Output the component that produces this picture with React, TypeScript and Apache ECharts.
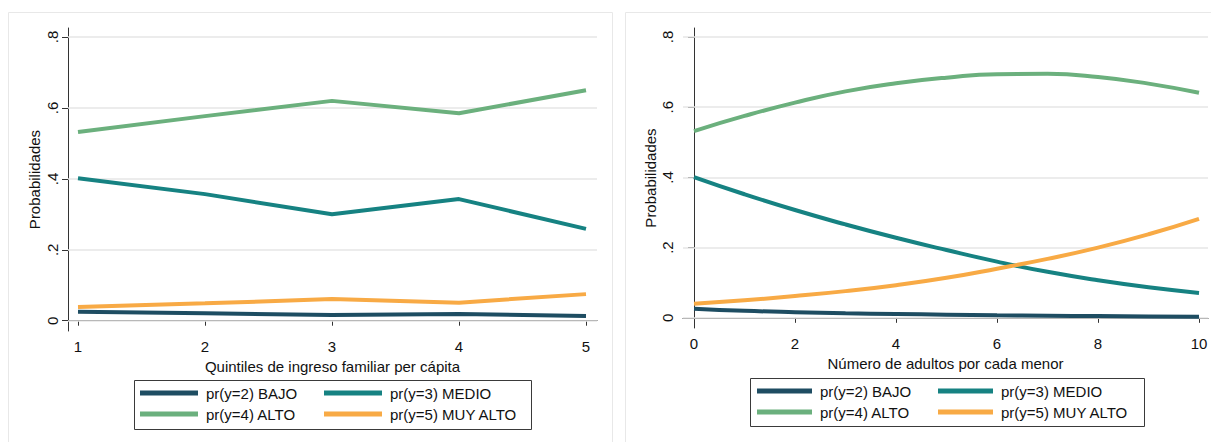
import React, { useEffect, useRef } from "react";
import * as echarts from "echarts";

// ---- Data ----
const seriesNames = ["pr(y=2) BAJO", "pr(y=3) MEDIO", "pr(y=4) ALTO", "pr(y=5) MUY ALTO"];
const seriesColors = ["#1e4d62", "#168282", "#6bb07d", "#f8aa45"];

// Left panel: quintiles
const quintiles = [1, 2, 3, 4, 5];
const bajoQ = [0.025, 0.021, 0.016, 0.019, 0.013];
const medioQ = [0.402, 0.357, 0.300, 0.343, 0.259];
const altoQ = [0.532, 0.577, 0.620, 0.585, 0.650];
const muyAltoQ = [0.039, 0.049, 0.061, 0.051, 0.075];

// Right panel: adults per minor
const adults = [0, 1, 2, 3, 4, 5, 6, 7, 8, 9, 10];
const bajoA = [0.026, 0.020, 0.016, 0.013, 0.011, 0.009, 0.007, 0.006, 0.005, 0.004, 0.003];
const medioA = [0.401, 0.352, 0.307, 0.266, 0.228, 0.193, 0.160, 0.131, 0.107, 0.087, 0.071];
const altoA = [0.532, 0.575, 0.613, 0.645, 0.668, 0.684, 0.694, 0.695, 0.686, 0.667, 0.641];
const muyAltoA = [0.040, 0.050, 0.062, 0.076, 0.093, 0.114, 0.140, 0.168, 0.200, 0.238, 0.282];

const yTicks = [0, 0.2, 0.4, 0.6, 0.8];
const xTicksLeft = [1, 2, 3, 4, 5];
const xTicksRight = [0, 2, 4, 6, 8, 10];

const FONT = "'Liberation Sans', Arial, sans-serif";
const TXT = "#111";
const FS = 15;

function fmtY(v: number) {
  if (v === 0) return "0";
  return String(Math.round(v * 10) / 10).replace(/^0/, "");
}

export default function App() {
  const ref = useRef<HTMLDivElement>(null);
  useEffect(() => {
    if (!ref.current) return;
    const chart = echarts.init(ref.current, undefined, { renderer: "svg" });

    const leftSets = [bajoQ, medioQ, altoQ, muyAltoQ];
    const rightSets = [bajoA, medioA, altoA, muyAltoA];

    const gridLines = {
      silent: true,
      symbol: "none",
      z: 1,
      label: { show: false },
      lineStyle: { color: "#e6e6e6", width: 1.5, type: "solid" },
      data: yTicks.map((v) => ({ yAxis: v })),
      animation: false,
    };

    const series: any[] = [];
    leftSets.forEach((vals, i) => {
      series.push({
        type: "line",
        name: seriesNames[i],
        xAxisIndex: 0,
        yAxisIndex: 0,
        data: quintiles.map((x, k) => [x, vals[k]]),
        symbol: "none",
        lineStyle: { width: 4, color: seriesColors[i] },
        itemStyle: { color: seriesColors[i] },
        z: 3,
        ...(i === 0 ? { markLine: gridLines } : {}),
      });
    });
    rightSets.forEach((vals, i) => {
      series.push({
        type: "line",
        name: seriesNames[i],
        xAxisIndex: 1,
        yAxisIndex: 1,
        data: adults.map((x, k) => [x, vals[k]]),
        symbol: "none",
        smooth: true,
        lineStyle: { width: 4, color: seriesColors[i] },
        itemStyle: { color: seriesColors[i] },
        z: 3,
        ...(i === 0 ? { markLine: gridLines } : {}),
      });
    });

    const axisCommonX = (min: number, max: number, ticks: number[], name: string, gi: number) => ({
      type: "value",
      gridIndex: gi,
      min,
      max,
      name,
      nameLocation: "middle",
      nameGap: 23,
      nameTextStyle: { fontFamily: FONT, fontSize: FS, color: TXT },
      axisLine: { show: true, lineStyle: { color: "#333", width: 1 } },
      axisTick: { show: true, length: 5, customValues: ticks, lineStyle: { color: "#333" } },
      axisLabel: {
        customValues: ticks,
        margin: 8,
        fontFamily: FONT,
        fontSize: FS,
        color: TXT,
        formatter: (v: number) => String(v),
      },
      splitLine: { show: false },
    });

    const axisCommonY = (gi: number, gap: number) => ({
      type: "value",
      gridIndex: gi,
      min: -0.029,
      max: 0.8255,
      name: "Probabilidades",
      nameLocation: "middle",
      nameGap: gap,
      nameRotate: 90,
      nameTextStyle: { fontFamily: FONT, fontSize: FS, color: TXT },
      axisLine: { show: true, lineStyle: { color: "#333", width: 1 } },
      axisTick: { show: true, length: 6, customValues: yTicks, lineStyle: { color: "#333" } },
      axisLabel: {
        customValues: yTicks,
        rotate: 90,
        margin: 8,
        fontFamily: FONT,
        fontSize: FS,
        color: TXT,
        formatter: (v: number) => fmtY(v),
      },
      splitLine: { show: false },
    });

    const legendBase = {
      orient: "vertical",
      icon: "rect",
      itemHeight: 5,
      itemGap: 5,
      padding: 0,
      selectedMode: false,
      textStyle: { fontFamily: FONT, fontSize: FS, color: TXT, lineHeight: 16, padding: [0, 0, 0, 3] },
    };

    chart.setOption({
      animation: false,
      backgroundColor: "#ffffff",
      grid: [
        { left: 68, top: 28, width: 529, height: 303 },
        { left: 683, top: 28, width: 525, height: 300 },
      ],
      xAxis: [
        axisCommonX(0.9213, 5.0866, xTicksLeft, "Quintiles de ingreso familiar per cápita", 0),
        axisCommonX(-0.218, 10.178, xTicksRight, "Número de adultos por cada menor", 1),
      ],
      yAxis: [axisCommonY(0, 26), axisCommonY(1, 25)],
      legend: [
        { ...legendBase, left: 140, top: 385, itemWidth: 58, data: [seriesNames[0], seriesNames[2]] },
        { ...legendBase, left: 324, top: 385, itemWidth: 58, data: [seriesNames[1], seriesNames[3]] },
        { ...legendBase, left: 757, top: 383, itemWidth: 55, data: [seriesNames[0], seriesNames[2]] },
        { ...legendBase, left: 938, top: 383, itemWidth: 55, data: [seriesNames[1], seriesNames[3]] },
      ],
      graphic: [
        { type: "rect", shape: { x: 8.5, y: 12.5, width: 604, height: 440 }, style: { fill: "none", stroke: "#e8e8e8", lineWidth: 1 }, silent: true, z: -1 },
        { type: "rect", shape: { x: 625.5, y: 12.5, width: 600, height: 440 }, style: { fill: "none", stroke: "#e8e8e8", lineWidth: 1 }, silent: true, z: -1 },
        { type: "rect", shape: { x: 134.5, y: 380.5, width: 397, height: 49 }, style: { fill: "none", stroke: "#3a3a3a", lineWidth: 1 }, silent: true },
        { type: "rect", shape: { x: 750.5, y: 378.5, width: 394, height: 48 }, style: { fill: "none", stroke: "#3a3a3a", lineWidth: 1 }, silent: true },
      ],
      series,
    });
    return () => chart.dispose();
  }, []);

  return (
    <div
      ref={ref}
      style={{ position: "fixed", left: 0, top: 0, width: 1211, height: 442, background: "#fff" }}
    />
  );
}
